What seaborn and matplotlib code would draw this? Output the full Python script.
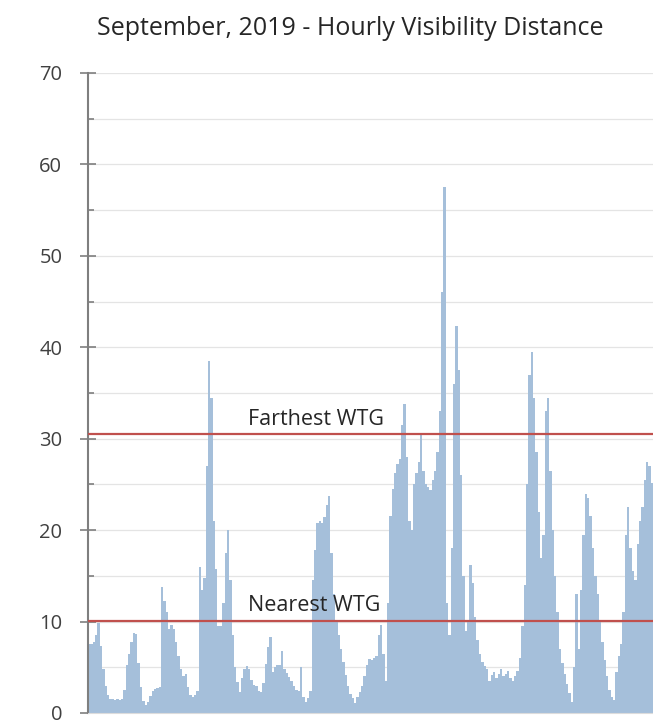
import numpy as np
import pandas as pd
import matplotlib
matplotlib.use("Agg")
import matplotlib.pyplot as plt
import seaborn as sns
from matplotlib.ticker import MultipleLocator

# hourly visibility (km) in 3-hour blocks, one row per day
visibility = [
    7.5, 7.5, 7.8, 8.5, 9.8, 7.3, 4.8, 3.0,
    2.0, 1.5, 1.5, 1.4, 1.5, 1.4, 1.5, 2.5,
    5.2, 6.4, 7.8, 8.8, 8.6, 5.5, 2.8, 1.3,
    0.9, 1.2, 1.9, 2.4, 2.6, 2.7, 2.8, 13.8,
    12.2, 11.0, 9.2, 9.6, 9.2, 7.8, 6.2, 4.8,
    4.0, 4.3, 2.8, 2.0, 1.8, 2.0, 2.4, 16.0,
    13.5, 14.8, 27.0, 38.5, 34.5, 21.0, 15.8, 9.5,
    9.5, 12.0, 17.5, 20.0, 14.5, 8.5, 5.0, 3.4,
    2.3, 3.8, 4.8, 5.1, 4.8, 3.6, 3.1, 2.9,
    2.4, 2.3, 3.3, 5.4, 7.2, 8.3, 4.5, 5.0,
    5.3, 5.2, 6.8, 4.8, 4.4, 3.9, 3.5, 3.0,
    2.5, 2.4, 5.0, 1.8, 1.2, 1.6, 2.4, 14.5,
    17.8, 20.8, 21.0, 20.8, 21.4, 22.8, 23.7, 17.5,
    13.0, 10.2, 8.5, 7.0, 5.6, 4.2, 2.9, 2.1,
    1.6, 1.1, 1.7, 2.3, 3.0, 4.1, 5.3, 5.9,
    5.8, 6.0, 6.2, 8.5, 9.6, 6.5, 3.5, 12.0,
    21.5, 24.5, 26.2, 27.2, 27.8, 31.5, 33.8, 28.0,
    21.0, 20.0, 25.0, 26.2, 27.5, 30.5, 26.5, 25.0,
    24.7, 24.4, 25.5, 26.5, 28.5, 33.0, 46.0, 57.5,
    12.0, 8.5, 18.0, 36.0, 42.3, 37.5, 26.0, 15.0,
    9.0, 10.0, 16.2, 14.2, 10.5, 8.0, 6.5, 5.6,
    5.1, 4.8, 3.5, 4.2, 4.5, 3.8, 4.3, 4.8,
    4.1, 4.3, 4.6, 3.8, 3.5, 4.0, 4.6, 6.0,
    9.5, 14.0, 25.0, 37.0, 39.5, 34.5, 28.5, 22.0,
    17.0, 19.5, 33.0, 34.5, 26.5, 20.0, 15.0, 11.0,
    7.0, 5.5, 4.3, 3.2, 2.2, 1.2, 5.0, 13.0,
    7.0, 13.5, 19.5, 24.0, 23.5, 21.5, 18.0, 15.0,
    13.0, 10.0, 7.8, 5.8, 4.0, 2.5, 1.8, 1.4,
    4.5, 6.2, 7.5, 11.0, 19.5, 22.5, 18.0, 15.5,
    14.5, 18.5, 21.0, 22.5, 25.5, 27.5, 27.0, 25.2,
]
block_hours = 3
hours = [block_hours * i + block_hours / 2 for i in range(len(visibility))]

thresholds = [30.5, 10.1]
threshold_labels = ["Farthest WTG", "Nearest WTG"]

df = pd.DataFrame({"hour": hours, "visibility": visibility})

sns.set_theme(style="white")
plt.rcParams["font.family"] = ["Open Sans", "DejaVu Sans"]

fig = plt.figure(figsize=(6.53, 7.24), dpi=100)
ax = fig.add_axes([0.1348, 0.0152, 0.8652, 0.8840])

sns.barplot(data=df, x="hour", y="visibility", native_scale=True, width=1.0,
            color="#a5bfda", saturation=1, linewidth=0, ax=ax)

for val, lab in zip(thresholds, threshold_labels):
    ax.axhline(val, color="#c0504d", lw=1.6, zorder=3)
    ax.text(204, val + 0.5, lab, fontsize=15.5, color="#262626",
            ha="left", va="bottom", zorder=4)

ax.set_xlim(0, 720)
ax.set_ylim(0, 70)
ax.yaxis.set_major_locator(MultipleLocator(10))
ax.yaxis.set_minor_locator(MultipleLocator(5))
ax.set_xticks([])
ax.set_xlabel("")
ax.set_ylabel("")
ax.grid(True, axis="y", which="both", color="#e4e4e4", lw=0.9)
ax.set_axisbelow(True)

ax.tick_params(axis="y", which="major", direction="inout", length=11,
               width=1.2, color="#7f7f7f", labelsize=14.5, labelcolor="#404040", pad=13,
               left=True)
ax.tick_params(axis="y", which="minor", direction="in", length=4,
               width=1.2, color="#7f7f7f", left=True)

for s in ["top", "right"]:
    ax.spines[s].set_visible(False)
ax.spines["left"].set_color("#7f7f7f")
ax.spines["left"].set_linewidth(1.5)
ax.spines["bottom"].set_color("#dcdcdc")
ax.spines["bottom"].set_linewidth(0.8)

fig.text(0.537, 0.960, "September, 2019 - Hourly Visibility Distance",
         ha="center", va="center", fontsize=18, color="#262626")

fig.savefig("out.png", dpi=100)
